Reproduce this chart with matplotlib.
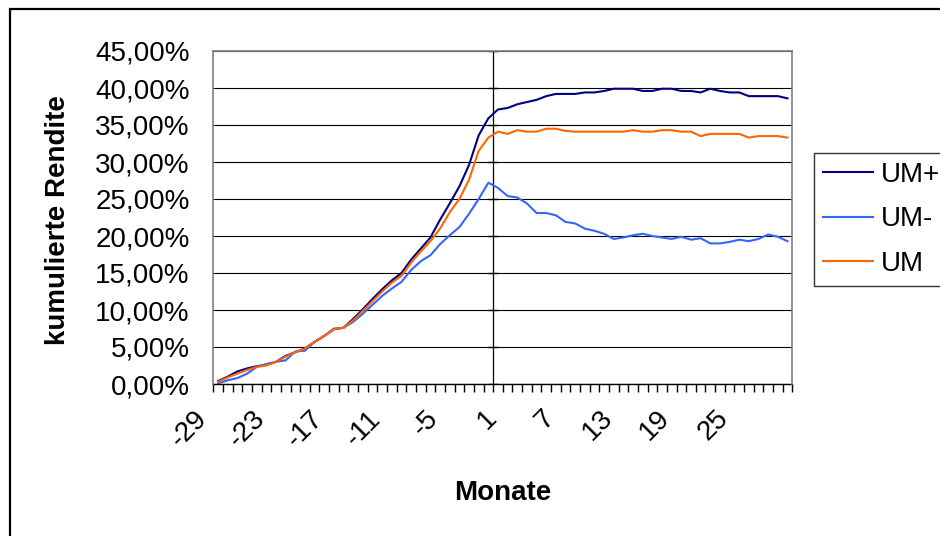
import numpy as np
import matplotlib.pyplot as plt
from matplotlib.patches import Rectangle
from matplotlib.transforms import ScaledTranslation

plt.rcParams['font.family'] = ['Liberation Sans', 'DejaVu Sans']

# Monate relativ zum Ereignis
monate = list(range(-29, 31))

# kumulierte Renditen in Prozent
um_plus = [0.4, 1.0, 1.7, 2.1, 2.4, 2.6, 3.0, 3.8, 4.3, 4.8,
           5.7, 6.5, 7.4, 7.6, 8.8, 10.1, 11.5, 12.8, 14.0, 15.0,
           16.8, 18.3, 19.8, 22.2, 24.4, 26.7, 29.6, 33.6, 35.9, 37.1,
           37.3, 37.8, 38.1, 38.4, 38.9, 39.2, 39.2, 39.2, 39.4, 39.4,
           39.6, 39.9, 39.9, 39.9, 39.6, 39.6, 39.9, 39.9, 39.6, 39.6,
           39.4, 39.9, 39.6, 39.4, 39.4, 38.9, 38.9, 38.9, 38.9, 38.6]
um_minus = [0.1, 0.5, 0.8, 1.4, 2.3, 2.7, 3.0, 3.2, 4.4, 4.5,
            5.7, 6.5, 7.5, 7.6, 8.4, 9.5, 10.7, 11.9, 12.9, 13.8,
            15.4, 16.6, 17.4, 18.9, 20.1, 21.2, 23.0, 25.0, 27.2, 26.5,
            25.4, 25.2, 24.4, 23.1, 23.1, 22.8, 21.9, 21.7, 21.0, 20.7,
            20.3, 19.6, 19.8, 20.1, 20.3, 20.0, 19.8, 19.6, 19.9, 19.5,
            19.7, 19.0, 19.0, 19.2, 19.5, 19.3, 19.6, 20.2, 19.9, 19.3]
um = [0.3, 0.9, 1.4, 1.9, 2.3, 2.5, 3.0, 3.7, 4.3, 4.8,
      5.7, 6.5, 7.4, 7.6, 8.6, 9.9, 11.2, 12.5, 13.7, 14.6,
      16.4, 17.9, 19.3, 21.0, 23.2, 25.0, 27.6, 31.5, 33.3, 34.1,
      33.8, 34.3, 34.1, 34.1, 34.5, 34.5, 34.2, 34.1, 34.1, 34.1,
      34.1, 34.1, 34.1, 34.3, 34.1, 34.1, 34.3, 34.3, 34.1, 34.1,
      33.5, 33.8, 33.8, 33.8, 33.8, 33.3, 33.5, 33.5, 33.5, 33.3]

y_ticks = [0, 5, 10, 15, 20, 25, 30, 35, 40, 45]

W, H = 940, 536
fig = plt.figure(figsize=(W / 100, H / 100), dpi=100)
# Rahmen des Diagrammbereichs, rechts und unten abgeschnitten
fig.patches.append(Rectangle((10 / W, -0.1), 1, 1.1 - 9 / H, transform=fig.transFigure,
                             fill=False, edgecolor='black', linewidth=1.6))

ax = fig.add_axes([213.3 / W, 1 - 384 / H, 579 / W, 333 / H])
x = np.arange(len(monate))

ax.plot(x, um_plus, color='#000080', lw=1.5, label='UM+')
ax.plot(x, um_minus, color='#3366FF', lw=1.5, label='UM-')
ax.plot(x, um, color='#FF6600', lw=1.5, label='UM')

ax.set_xlim(-0.5, len(monate) - 0.5)
ax.set_ylim(0, 45)

# y-Achse schneidet bei Monat 0
i0 = monate.index(0) - 0.5
ax.axvline(i0, color='black', lw=0.9, zorder=1.5)
ax.plot([i0] * len(y_ticks), y_ticks, linestyle='none', marker='_',
        markersize=7, markeredgewidth=1.0, color='black', zorder=1.6)

ax.set_yticks(y_ticks)
ax.set_yticklabels(['%d,00%%' % v for v in y_ticks], fontsize=20)
ax.tick_params(axis='y', length=0, pad=17)
ax.yaxis.grid(True, color='black', lw=0.8)
ax.set_axisbelow(True)

ax.set_xticks(x[::6])
ax.set_xticklabels([str(monate[i]) for i in x[::6]], fontsize=20,
                   rotation=45, ha='right', va='center', rotation_mode='anchor')
ax.set_xticks(np.arange(-0.5, len(monate)), minor=True)
ax.tick_params(axis='x', which='major', length=0, pad=22)
ax.tick_params(axis='x', which='minor', length=6, width=1, color='black', direction='out')
offset = ScaledTranslation(-0.15, 0, fig.dpi_scale_trans)
for lbl in ax.get_xticklabels():
    lbl.set_transform(lbl.get_transform() + offset)

for side in ['left', 'top', 'right']:
    ax.spines[side].set_color('#808080')
    ax.spines[side].set_linewidth(1.2)
    ax.spines[side].set_zorder(3)
ax.spines['bottom'].set_color('black')
ax.spines['bottom'].set_linewidth(1.0)

fig.text(58 / W, 1 - 220 / H, 'kumulierte Rendite', rotation=90, fontsize=20,
         fontweight='bold', ha='center', va='center')
fig.text(503 / W, 1 - 493 / H, 'Monate', fontsize=20, fontweight='bold',
         ha='center', va='center')

leg = fig.legend(loc='upper left', bbox_to_anchor=(814 / W, 1 - 153 / H),
                 fontsize=20, frameon=True, fancybox=False, edgecolor='black',
                 handlelength=1.8, handletextpad=0.28, labelspacing=0.66,
                 borderpad=0.33, borderaxespad=0)
leg.get_frame().set_linewidth(1.0)

fig.savefig('out.png', dpi=100)
